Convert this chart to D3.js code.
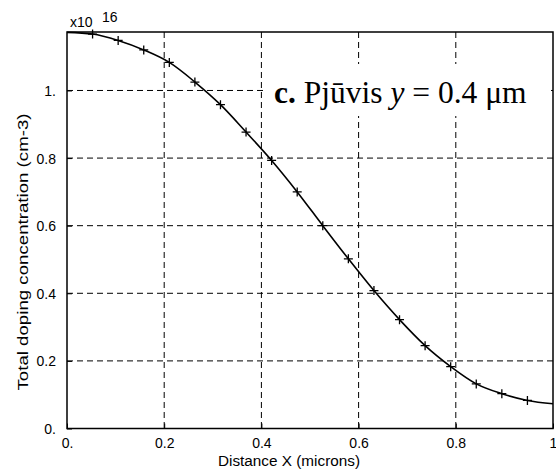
<!DOCTYPE html>
<html>
<head>
<meta charset="utf-8">
<script src="https://cdn.jsdelivr.net/npm/d3@7"></script>
<style>
  html, body { margin: 0; padding: 0; background: #fff; }
  svg { display: block; }
</style>
</head>
<body>
<svg id="chart" width="556" height="473"></svg>
<script>
// ---- data (values in units of 1e16 cm^-3) ----
const lineX = [0, 1/19, 2/19, 3/19, 4/19, 5/19, 6/19, 7/19, 8/19, 9/19, 10/19,
               11/19, 12/19, 13/19, 14/19, 15/19, 16/19, 17/19, 18/19, 1];
const lineY = [1.172, 1.167, 1.148, 1.120, 1.083, 1.025, 0.958, 0.877, 0.793, 0.700, 0.600,
               0.502, 0.408, 0.322, 0.245, 0.183, 0.132, 0.103, 0.083, 0.073];
const markerIdx = [1,2,3,4,5,6,7,8,9,10,11,12,13,14,15,16,17,18];
const xTicks = [0, 0.2, 0.4, 0.6, 0.8, 1];
const xTickLabels = ["0.", "0.2", "0.4", "0.6", "0.8", "1"];
const yTicks = [0, 0.2, 0.4, 0.6, 0.8, 1.0];
const yTickLabels = ["0.", "0.2", "0.4", "0.6", "0.8", "1."];
const xTitle = "Distance X (microns)";
const yTitle = "Total doping concentration (cm-3)";
const exponentBase = "x10";
const exponentPow = "16";

// ---- layout ----
const svg = d3.select("#chart");
const L = 67, R = 553, T = 32, B = 428.5;
const x = d3.scaleLinear().domain([0, 1]).range([L, R]);
const y = d3.scaleLinear().domain([0, 1.173]).range([B, T]);
const sans = "'Liberation Sans', Arial, Helvetica, sans-serif";

// gridlines
const grid = svg.append("g").attr("stroke", "#000").attr("stroke-width", 1)
  .attr("stroke-dasharray", "6,4").attr("fill", "none");
grid.selectAll("line.gx").data(xTicks.filter(d => d > 0 && d < 1)).enter().append("line")
  .attr("x1", d => x(d)).attr("x2", d => x(d)).attr("y1", T).attr("y2", B);
grid.selectAll("line.gy").data(yTicks.filter(d => d > 0)).enter().append("line")
  .attr("y1", d => y(d)).attr("y2", d => y(d)).attr("x1", L).attr("x2", R);

// axes with inside ticks
const xAxis = d3.axisBottom(x).tickValues(xTicks).tickSize(-5)
  .tickFormat((d, i) => xTickLabels[i]).tickPadding(10);
const yAxis = d3.axisLeft(y).tickValues(yTicks).tickSize(-5)
  .tickFormat((d, i) => yTickLabels[i]).tickPadding(11);
const gx = svg.append("g").attr("transform", `translate(0,${B})`).call(xAxis);
const gy = svg.append("g").attr("transform", `translate(${L},0)`).call(yAxis);
[gx, gy].forEach(g => {
  g.select(".domain").remove();
  g.selectAll("line").attr("stroke", "#000").attr("stroke-width", 1);
  g.selectAll("text").attr("font-family", sans).attr("font-size", 14).attr("fill", "#000");
});
gy.selectAll("text").attr("dy", "0.36em");

// annotation box (white background)
svg.append("rect").attr("x", 265).attr("y", 64).attr("width", 286).attr("height", 52)
  .attr("fill", "#fff");
const ann = svg.append("text").attr("x", 274).attr("y", 103)
  .attr("font-family", "'Liberation Serif', 'Times New Roman', Times, serif")
  .attr("font-size", 31.5).attr("fill", "#000");
ann.append("tspan").attr("font-weight", "bold").text("c.");
ann.append("tspan").text(" Pjūvis ");
ann.append("tspan").attr("font-style", "italic").text("y");
ann.append("tspan").text(" = 0.4 μm");

// curve
const pts = lineX.map((d, i) => [d, lineY[i]]);
svg.append("path").datum(pts)
  .attr("fill", "none").attr("stroke", "#000").attr("stroke-width", 1.6)
  .attr("d", d3.line().x(d => x(d[0])).y(d => y(d[1])).curve(d3.curveMonotoneX));

// markers '+'
const mk = svg.append("g").attr("stroke", "#000").attr("stroke-width", 1.3);
const mpts = markerIdx.map(i => pts[i]);
mk.selectAll("path").data(mpts).enter().append("path")
  .attr("d", d => {
    const cx = x(d[0]), cy = y(d[1]), s = 4.5;
    return `M${cx - s},${cy}H${cx + s}M${cx},${cy - s}V${cy + s}`;
  });

// frame
svg.append("rect").attr("x", L).attr("y", T).attr("width", R - L).attr("height", B - T)
  .attr("fill", "none").attr("stroke", "#000").attr("stroke-width", 1.5);

// exponent label
svg.append("text").attr("x", 70).attr("y", 27).attr("font-family", sans)
  .attr("font-size", 14).text(exponentBase);
svg.append("text").attr("x", 102).attr("y", 22).attr("font-family", sans)
  .attr("font-size", 14).text(exponentPow);

// axis titles
svg.append("text").attr("x", 289).attr("y", 466).attr("text-anchor", "middle")
  .attr("font-family", sans).attr("font-size", 14)
  .attr("textLength", 142).attr("lengthAdjust", "spacingAndGlyphs").text(xTitle);
svg.append("text").attr("transform", "translate(28,252) rotate(-90)")
  .attr("text-anchor", "middle").attr("font-family", sans).attr("font-size", 14)
  .attr("textLength", 277).attr("lengthAdjust", "spacingAndGlyphs").text(yTitle);
</script>
</body>
</html>
